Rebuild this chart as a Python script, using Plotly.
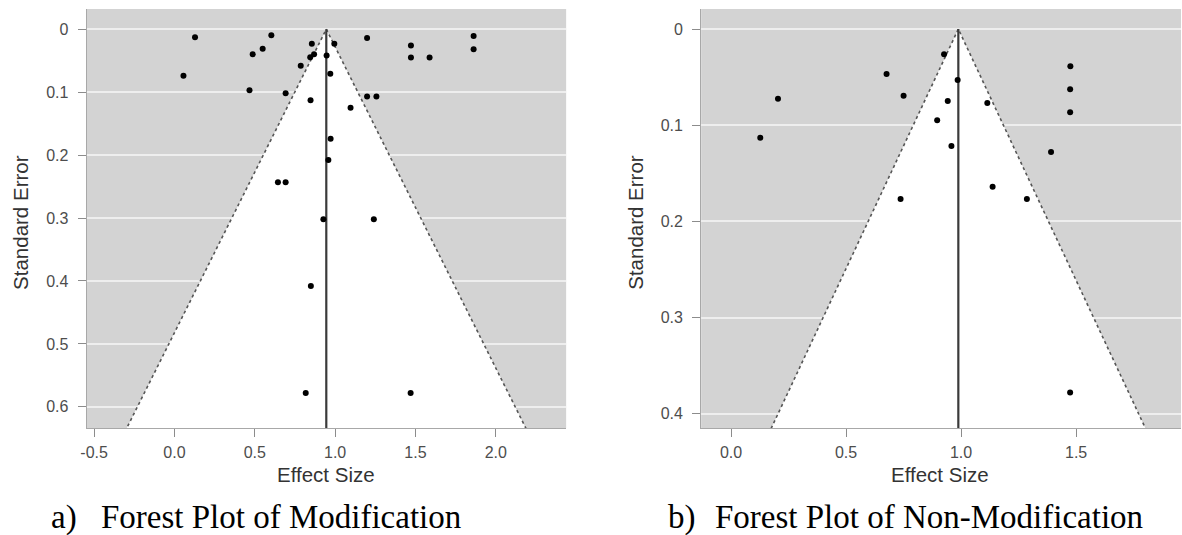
import plotly.graph_objects as go

# ---------------- data ----------------
mod_effect = [0.128, 0.056, 0.487, 0.549, 0.603, 0.467, 0.692, 0.786, 0.644, 0.692,
              0.855, 0.995, 0.845, 0.869, 0.947, 0.970, 0.847, 1.096, 1.199, 1.472,
              1.472, 1.588, 1.862, 1.862, 1.199, 1.257, 0.972, 0.958, 0.927, 1.241,
              0.849, 0.817, 1.470]
mod_se = [0.013, 0.074, 0.040, 0.031, 0.0095, 0.097, 0.102, 0.058, 0.243, 0.243,
          0.023, 0.023, 0.0445, 0.040, 0.042, 0.071, 0.113, 0.125, 0.014, 0.026,
          0.045, 0.045, 0.011, 0.032, 0.107, 0.107, 0.174, 0.208, 0.302, 0.302,
          0.408, 0.578, 0.578]
mod_estimate = 0.945

non_effect = [0.204, 0.127, 0.676, 0.926, 0.985, 0.750, 0.942, 1.114, 0.896, 0.958,
              1.475, 1.474, 1.474, 1.391, 1.137, 0.737, 1.286, 1.474]
non_se = [0.0724, 0.113, 0.0468, 0.0263, 0.053, 0.0693, 0.0748, 0.0769, 0.0949, 0.1216,
          0.0388, 0.0627, 0.0866, 0.1279, 0.164, 0.1767, 0.1767, 0.3777]
non_estimate = 0.988

mod_xticks = [-0.5, 0.0, 0.5, 1.0, 1.5, 2.0]
mod_yticks = [0, 0.1, 0.2, 0.3, 0.4, 0.5, 0.6]
non_xticks = [0.0, 0.5, 1.0, 1.5]
non_yticks = [0, 0.1, 0.2, 0.3, 0.4]

x_title = "Effect Size"
y_title = "Standard Error"
cap_a = ("a)", "Forest Plot of Modification")
cap_b = ("b)", "Forest Plot of Non-Modification")

# ---------------- figure ----------------
W, H = 1182, 535
DX = -3  # small horizontal correction
GREY = "#d3d3d3"
TICKFONT = dict(family="Liberation Sans, Arial, sans-serif", size=16, color="#4d4d4d")
TITLEFONT = dict(family="Liberation Sans, Arial, sans-serif", size=20.5, color="#333333")
CAPFONT = dict(family="Liberation Serif, Times New Roman, serif", size=33, color="#000000")

fig = go.Figure()


def add_funnel(est, se_max, xa, ya):
    z = 1.96
    fig.add_trace(go.Scatter(
        x=[est - z * se_max, est, est + z * se_max, est - z * se_max],
        y=[se_max, 0, se_max, se_max],
        mode="lines", fill="toself", fillcolor="white",
        line=dict(width=0), hoverinfo="skip", showlegend=False,
        xaxis=xa, yaxis=ya))
    fig.add_trace(go.Scatter(
        x=[est - z * se_max, est, est + z * se_max],
        y=[se_max, 0, se_max],
        mode="lines", line=dict(color="#555555", width=1.6, dash="dot"),
        hoverinfo="skip", showlegend=False, xaxis=xa, yaxis=ya))
    fig.add_trace(go.Scatter(
        x=[est, est], y=[0, se_max],
        mode="lines", line=dict(color="#3a3a3a", width=2.2),
        hoverinfo="skip", showlegend=False, xaxis=xa, yaxis=ya))


def add_points(xs, ys, xa, ya):
    fig.add_trace(go.Scatter(
        x=xs, y=ys, mode="markers",
        marker=dict(color="black", size=6),
        showlegend=False, xaxis=xa, yaxis=ya))


add_funnel(mod_estimate, 0.75, "x", "y")
add_points(mod_effect, mod_se, "x", "y")
add_funnel(non_estimate, 0.5, "x2", "y2")
add_points(non_effect, non_se, "x2", "y2")

ydom = [1 - 428.3 / H, 1 - 9 / H]
dom1 = [(84 + DX) / W, (566 + DX) / W]
dom2 = [(701.7 + DX) / W, 1181 / W]

common_x = dict(showgrid=False, zeroline=False, showline=True, linecolor="#a8a8a8",
                linewidth=1, ticks="outside", ticklen=8, tickcolor="#8c8c8c",
                tickfont=TICKFONT, ticklabelstandoff=1)
common_y = dict(showgrid=True, gridcolor="#eeeeee", gridwidth=1.6, zeroline=False,
                showline=True, linecolor="#a8a8a8", linewidth=1, ticks="outside",
                ticklen=8, tickcolor="#8c8c8c", tickfont=TICKFONT, ticklabelstandoff=6)


def fmt_y(v):
    return "0" if v == 0 else f"{v:.1f}"


fig.update_layout(
    width=W, height=H,
    margin=dict(l=0, r=0, t=0, b=0),
    paper_bgcolor="white", plot_bgcolor=GREY,
    xaxis=dict(domain=dom1, anchor="y", range=[-0.547, 2.438],
               tickvals=mod_xticks, ticktext=[f"{v:.1f}" for v in mod_xticks], **common_x),
    yaxis=dict(domain=ydom, anchor="x", range=[0.634, -0.032],
               tickvals=mod_yticks, ticktext=[fmt_y(v) for v in mod_yticks], **common_y),
    xaxis2=dict(domain=dom2, anchor="y2", range=[-0.130, 1.956],
                tickvals=non_xticks, ticktext=[f"{v:.1f}" for v in non_xticks], **common_x),
    yaxis2=dict(domain=ydom, anchor="x2", range=[0.415, -0.0208],
                tickvals=non_yticks, ticktext=[fmt_y(v) for v in non_yticks], **common_y),
)

ann = []
# axis titles
for cx in [(84 + 566) / 2, (701.7 + 1181) / 2]:
    ann.append(dict(text=x_title, x=(cx + DX) / W, y=1 - 474 / H, xref="paper", yref="paper",
                    xanchor="center", yanchor="middle", showarrow=False, font=TITLEFONT))
for cx in [19, 637]:
    ann.append(dict(text=y_title, x=(cx + DX - 2) / W, y=1 - 222 / H, xref="paper",
                    yref="paper", xanchor="center", yanchor="middle", textangle=-90,
                    showarrow=False, font=TITLEFONT))
# captions
for (lab, txt), lx, tx in [(cap_a, 50, 100), (cap_b, 670, 718)]:
    ann.append(dict(text=lab, x=(lx - 7) / W, y=1 - 517 / H, xref="paper", yref="paper",
                    xanchor="left", yanchor="middle", showarrow=False, font=CAPFONT))
    ann.append(dict(text=txt, x=(tx - 7) / W, y=1 - 517 / H, xref="paper", yref="paper",
                    xanchor="left", yanchor="middle", showarrow=False, font=CAPFONT))
fig.update_layout(annotations=ann)

fig.write_html(
    "out.html",
    config={"displayModeBar": False},
    post_script="document.body.style.margin='0';document.body.style.overflow='hidden';",
)
